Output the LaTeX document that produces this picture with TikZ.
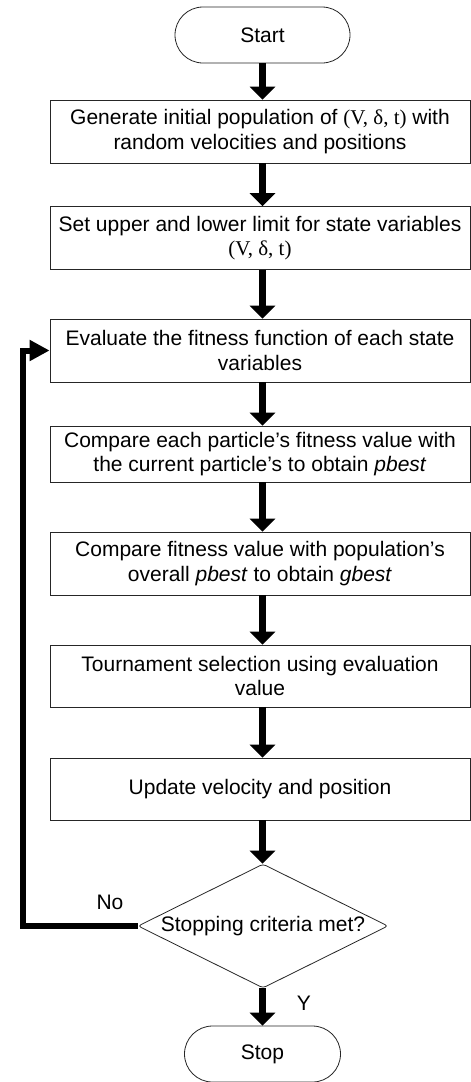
\documentclass[tikz,border=0pt]{standalone}
\usepackage{fontspec}
\setmainfont{Liberation Sans}
\newfontfamily\mathserif{Liberation Serif}
\usetikzlibrary{shapes.geometric,arrows.meta}
\newcommand{\vdt}{{\mathserif(V, δ, t)}}
\tikzset{
  base/.style={font=\fontsize{21}{24.5}\selectfont, align=center, inner sep=0pt, draw=black!85, line width=0.8pt},
  procbox/.style={base, rectangle, minimum width=420pt, minimum height=63pt},
  term/.style={base, rounded rectangle, minimum height=56pt},
  decide/.style={base, diamond, minimum width=250pt, minimum height=124pt, aspect=2, rounded corners=3pt},
  flowarrow/.style={line width=7pt, -{Triangle[width=25pt,length=13pt]}},
  looparrow/.style={line width=6pt, -{Triangle[width=20pt,length=20pt]}},
  lbl/.style={font=\fontsize{21}{24.5}\selectfont, inner sep=0pt}
}
\usetikzlibrary{shapes.misc}
\begin{document}
\begin{tikzpicture}[x=1pt,y=-1pt]
\useasboundingbox[fill=white] (0,0) rectangle (471,1082);
\coordinate (ax) at (262.5,0);
\node[term, minimum width=175pt] (start) at (262.5,35) {Start};
\node[procbox] (b1) at (260,131.5) {Generate initial population of \vdt{} with\\random velocities and positions};
\node[procbox] (b2) at (260,238) {Set upper and lower limit for state variables\\\vdt};
\node[procbox] (b3) at (260,350.5) {Evaluate the fitness function of each state\\variables};
\node[procbox, minimum height=56pt] (b4) at (260,454) {Compare each particle’s fitness value with\\the current particle’s to obtain \textit{pbest}};
\node[procbox] (b5) at (260,563.5) {Compare fitness value with population’s\\overall \textit{pbest} to obtain \textit{gbest}};
\node[procbox, minimum height=62pt] (b6) at (260,676) {Tournament selection using evaluation\\value};
\node[procbox, minimum height=62pt] (b7) at (260,789) {Update velocity and position};
\node[decide] (d) at (263,926) {Stopping criteria met?};
\node[term, minimum width=156pt] (stop) at (262.5,1054) {Stop};
\coordinate (lx) at (23,0);

\draw[flowarrow] (start.south -| ax) -- (b1.north -| ax);
\draw[flowarrow] (b1.south -| ax) -- (b2.north -| ax);
\draw[flowarrow] (b2.south -| ax) -- (b3.north -| ax);
\draw[flowarrow] (b3.south -| ax) -- (b4.north -| ax);
\draw[flowarrow] (b4.south -| ax) -- (b5.north -| ax);
\draw[flowarrow] (b5.south -| ax) -- (b6.north -| ax);
\draw[flowarrow] (b6.south -| ax) -- (b7.north -| ax);
\draw[flowarrow] (b7.south -| ax) -- (d.north -| ax);
\draw[flowarrow] (d.south -| ax) -- (stop.north -| ax);
\draw[looparrow, line join=miter] (d.west) -- (d.west -| lx) -- (b3.west -| lx) -- (b3.west);

\node[lbl] (no) at (110,902) {No};
\node[lbl] (yes) at (304,1003) {Y};
\end{tikzpicture}
\end{document}
